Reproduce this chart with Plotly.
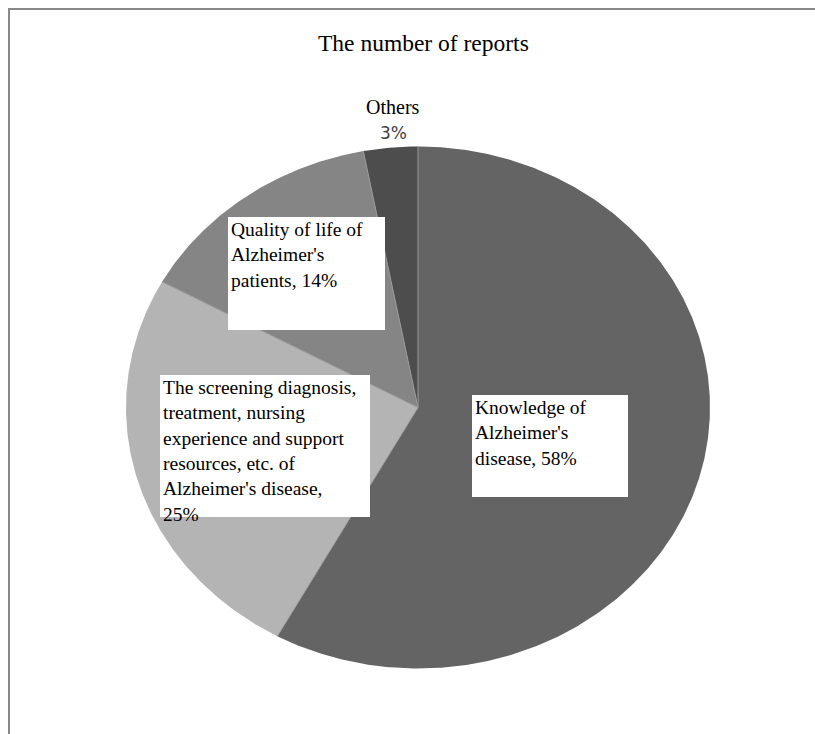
import numpy as np
import plotly.graph_objects as go

# Report topics and their share of reports (percent)
categories = [
    "Knowledge of Alzheimer's disease",
    "The screening diagnosis, treatment, nursing experience and support resources, etc. of Alzheimer's disease",
    "Quality of life of Alzheimer's patients",
    "Others",
]
values = [58, 25, 14, 3]
colors = ["#646464", "#b4b4b4", "#858585", "#4d4d4d"]

W, H = 815, 734
cx, cy = 418, 407.5      # pie centre (pixel units)
rx, ry = 292, 261        # horizontal / vertical radius

fig = go.Figure()

total = float(sum(values))
start = 0.0
bounds = []
for name, v, c in zip(categories, values, colors):
    end = start + v / total
    th = np.linspace(start, end, max(int(v * 8), 12)) * 2 * np.pi
    xs = np.concatenate([[cx], cx + rx * np.sin(th), [cx]])
    ys = np.concatenate([[cy], cy - ry * np.cos(th), [cy]])
    fig.add_trace(go.Scatter(x=xs, y=ys, fill="toself", fillcolor=c,
                             mode="lines", line=dict(width=0, color=c),
                             hoverinfo="text", text=f"{name}: {v}%",
                             showlegend=False))
    bounds.append(start)
    start = end

# thin separators between slices
for b in bounds:
    t = b * 2 * np.pi
    fig.add_trace(go.Scatter(x=[cx, cx + rx * np.sin(t)], y=[cy, cy - ry * np.cos(t)],
                             mode="lines", line=dict(width=1, color="#9a9a9a"),
                             hoverinfo="skip", showlegend=False))

serif = "Liberation Serif, Times New Roman, serif"

def boxed_label(x0, y0, x1, y1, text):
    fig.add_shape(type="rect", x0=x0, y0=y0, x1=x1, y1=y1, xref="x", yref="y",
                  fillcolor="white", line=dict(width=0), layer="above")
    fig.add_annotation(x=x0 + 2, y=y0 + 1, xref="x", yref="y", text=text,
                       showarrow=False, xanchor="left", yanchor="top", align="left",
                       font=dict(family=serif, size=19.5, color="black"), borderpad=0)

boxed_label(228, 217, 385, 330, f"Quality of life of<br>Alzheimer's<br>patients, {values[2]}%")
boxed_label(160, 375, 370, 517,
            "The screening diagnosis,<br>treatment, nursing<br>experience and support<br>"
            f"resources, etc. of<br>Alzheimer's disease,<br>{values[1]}%")
boxed_label(472, 395, 628, 497, f"Knowledge of<br>Alzheimer's<br>disease, {values[0]}%")

fig.add_annotation(x=393, y=107, xref="x", yref="y", text=categories[3], showarrow=False,
                   font=dict(family=serif, size=20, color="black"))
fig.add_annotation(x=393, y=133, xref="x", yref="y", text=f"{values[3]}%", showarrow=False,
                   font=dict(family="DejaVu Sans, sans-serif", size=17, color="#404040"))

# chart title
fig.add_annotation(x=423.5, y=43, xref="x", yref="y", text="The number of reports",
                   showarrow=False, font=dict(family=serif, size=23.5, color="black"))

# frame lines along the top and left
fig.add_shape(type="line", x0=8, y0=9, x1=W, y1=9, xref="x", yref="y",
              line=dict(color="#888888", width=2))
fig.add_shape(type="line", x0=9, y0=8, x1=9, y1=H, xref="x", yref="y",
              line=dict(color="#888888", width=2))

fig.update_layout(
    width=W, height=H, margin=dict(l=0, r=0, t=0, b=0),
    paper_bgcolor="white", plot_bgcolor="white",
    xaxis=dict(range=[0, W], visible=False, fixedrange=True),
    yaxis=dict(range=[H, 0], visible=False, fixedrange=True),
)

fig.write_html("out.html")
